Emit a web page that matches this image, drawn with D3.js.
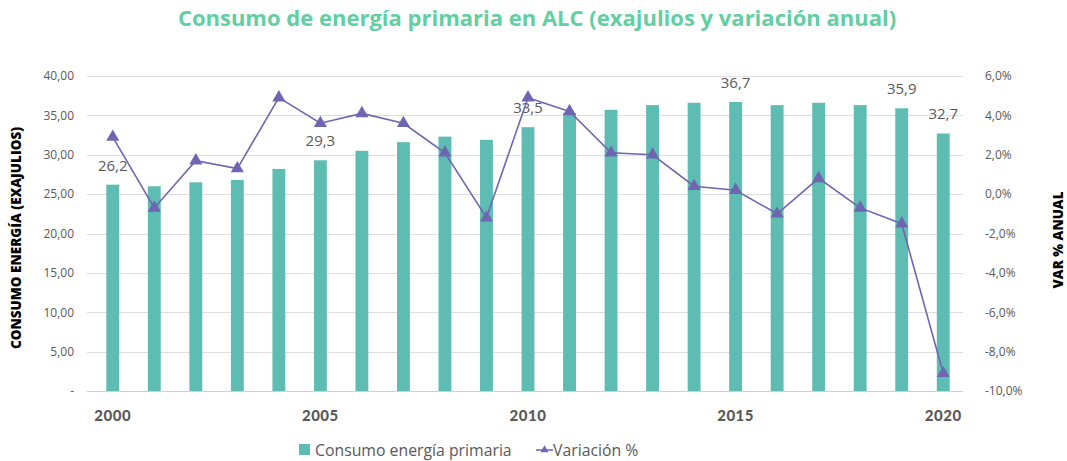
<!DOCTYPE html>
<html>
<head>
<meta charset="utf-8">
<script src="https://cdn.jsdelivr.net/npm/d3@7"></script>
<style>
  body { margin: 0; background: #fff; }
  svg { display: block; font-family: "Open Sans", sans-serif; }
</style>
</head>
<body>
<div id="chart"></div>
<script>
const kWidth = 1067;
const kHeight = 461;
const kMargin = { top: 76, right: 104, bottom: 70, left: 87 };

const years = d3.range(2000, 2021);
const consumo = [26.2, 26.0, 26.5, 26.8, 28.2, 29.3, 30.5, 31.6, 32.3, 31.9, 33.5,
                 35.3, 35.7, 36.3, 36.6, 36.7, 36.3, 36.6, 36.3, 35.9, 32.7];
const variacion = [2.9, -0.7, 1.7, 1.3, 4.9, 3.6, 4.1, 3.6, 2.1, -1.2, 4.9,
                   4.2, 2.1, 2.0, 0.4, 0.2, -1.0, 0.8, -0.7, -1.5, -9.1];
const labelYears = [2000, 2005, 2010, 2015, 2019, 2020];
const xTickYears = [2000, 2005, 2010, 2015, 2020];
const leftTicks = [0, 5, 10, 15, 20, 25, 30, 35, 40];
const rightTicks = [-10, -8, -6, -4, -2, 0, 2, 4, 6];

const kBarColor = "#5ebdb3";
const kLineColor = "#6f66b1";
const kTextColor = "#595959";

const fmtComma = (v, n) => v.toFixed(n).replace(".", ",");

function createSvg()
{
  return d3.select("#chart")
    .append("svg")
    .attr("width", kWidth)
    .attr("height", kHeight);
}

function drawChart(svg)
{
  const x0 = kMargin.left;
  const x1 = kWidth - kMargin.right;
  const y0 = kHeight - kMargin.bottom;
  const y1 = kMargin.top;

  // bars sit a little to the right of the grid, as in the original
  const xScale = d3.scaleBand()
    .domain(years)
    .range([x0 + 5, x1 + 1])
    .paddingInner(0.69)
    .paddingOuter(0.345);

  const yLeft = d3.scaleLinear().domain([0, 40]).range([y0, y1]);
  const yRight = d3.scaleLinear().domain([-10, 6]).range([y0, y1]);

  // title
  svg.append("text")
    .attr("x", 537)
    .attr("y", 26)
    .attr("text-anchor", "middle")
    .style("font-size", "22px")
    .style("font-weight", "700")
    .style("fill", "#62cfa2")
    .text("Consumo de energía primaria en ALC (exajulios y variación anual)");

  // gridlines
  svg.append("g")
    .selectAll("line")
    .data(leftTicks)
    .join("line")
    .attr("x1", x0)
    .attr("x2", x1)
    .attr("y1", d => Math.round(yLeft(d)) + 0.5)
    .attr("y2", d => Math.round(yLeft(d)) + 0.5)
    .attr("stroke", d => d === 0 ? "#d0d0d0" : "#dedede")
    .attr("stroke-width", 1);

  // left axis
  const leftAxis = d3.axisLeft(yLeft)
    .tickValues(leftTicks)
    .tickSize(0)
    .tickPadding(13)
    .tickFormat(d => d === 0 ? "-" : fmtComma(d, 2));

  svg.append("g")
    .attr("transform", `translate(${x0}, 0)`)
    .call(leftAxis)
    .call(g => g.select(".domain").remove())
    .selectAll("text")
    .style("font-family", "'Open Sans', sans-serif")
    .style("font-size", "12px")
    .style("fill", kTextColor);

  // right axis
  const rightAxis = d3.axisRight(yRight)
    .tickValues(rightTicks)
    .tickSize(0)
    .tickPadding(22)
    .tickFormat(d => fmtComma(d, 1) + "%");

  svg.append("g")
    .attr("transform", `translate(${x1}, 0)`)
    .call(rightAxis)
    .call(g => g.select(".domain").remove())
    .selectAll("text")
    .style("font-family", "'Open Sans', sans-serif")
    .style("font-size", "12px")
    .style("fill", kTextColor);

  // x axis
  const xAxis = d3.axisBottom(xScale)
    .tickValues(xTickYears)
    .tickSize(0)
    .tickPadding(19);

  svg.append("g")
    .attr("transform", `translate(0, ${y0})`)
    .call(xAxis)
    .call(g => g.select(".domain").remove())
    .selectAll("text")
    .style("font-family", "Lato, sans-serif")
    .style("font-size", "15px")
    .style("font-weight", "900")
    .style("letter-spacing", "0.5px")
    .style("fill", kTextColor);

  // axis titles
  svg.append("text")
    .attr("transform", `translate(21, 238) rotate(-90)`)
    .attr("text-anchor", "middle")
    .style("font-size", "13.5px")
    .style("font-weight", "800")
    .style("fill", "#000")
    .text("CONSUMO ENERGÍA (EXAJULIOS)");

  svg.append("text")
    .attr("transform", `translate(1063, 240) rotate(-90)`)
    .attr("text-anchor", "middle")
    .style("font-size", "13.5px")
    .style("font-weight", "800")
    .style("fill", "#000")
    .text("VAR % ANUAL");

  // bars
  svg.append("g")
    .selectAll("rect")
    .data(years)
    .join("rect")
    .attr("x", d => xScale(d))
    .attr("y", (d, i) => yLeft(consumo[i]))
    .attr("width", xScale.bandwidth())
    .attr("height", (d, i) => y0 - yLeft(consumo[i]))
    .attr("fill", kBarColor);

  // bar labels
  svg.append("g")
    .selectAll("text")
    .data(labelYears)
    .join("text")
    .attr("x", d => xScale(d) + xScale.bandwidth() / 2)
    .attr("y", d => yLeft(consumo[years.indexOf(d)]) - 14)
    .attr("text-anchor", "middle")
    .style("font-size", "15px")
    .style("fill", kTextColor)
    .text(d => fmtComma(consumo[years.indexOf(d)], 1));

  // variation line
  const cx = d => xScale(d) + xScale.bandwidth() / 2;
  const line = d3.line()
    .x(d => cx(d))
    .y((d, i) => yRight(variacion[i]));

  svg.append("path")
    .datum(years)
    .attr("d", line)
    .attr("fill", "none")
    .attr("stroke", kLineColor)
    .attr("stroke-width", 1.6);

  const tri = d3.symbol().type(d3.symbolTriangle).size(75);
  svg.append("g")
    .selectAll("path")
    .data(years)
    .join("path")
    .attr("d", tri)
    .attr("transform", (d, i) => `translate(${cx(d)}, ${yRight(variacion[i])})`)
    .attr("fill", kLineColor);

  // legend
  const legend = svg.append("g").attr("transform", "translate(299, 450)");
  legend.append("rect")
    .attr("x", 0).attr("y", -6)
    .attr("width", 11).attr("height", 11)
    .attr("fill", kBarColor);
  legend.append("text")
    .attr("x", 16).attr("y", 5.5)
    .style("font-size", "15.8px")
    .style("fill", kTextColor)
    .text("Consumo energía primaria");
  legend.append("line")
    .attr("x1", 237).attr("x2", 254)
    .attr("y1", 0).attr("y2", 0)
    .attr("stroke", kLineColor)
    .attr("stroke-width", 1.5);
  legend.append("path")
    .attr("d", d3.symbol().type(d3.symbolTriangle).size(28))
    .attr("transform", "translate(245.5, 0)")
    .attr("fill", kLineColor);
  legend.append("text")
    .attr("x", 254).attr("y", 5.5)
    .style("font-size", "15.8px")
    .style("fill", kTextColor)
    .text("Variación %");
}

document.addEventListener("DOMContentLoaded", () => {
  const svg = createSvg();
  drawChart(svg);
});
</script>
</body>
</html>
